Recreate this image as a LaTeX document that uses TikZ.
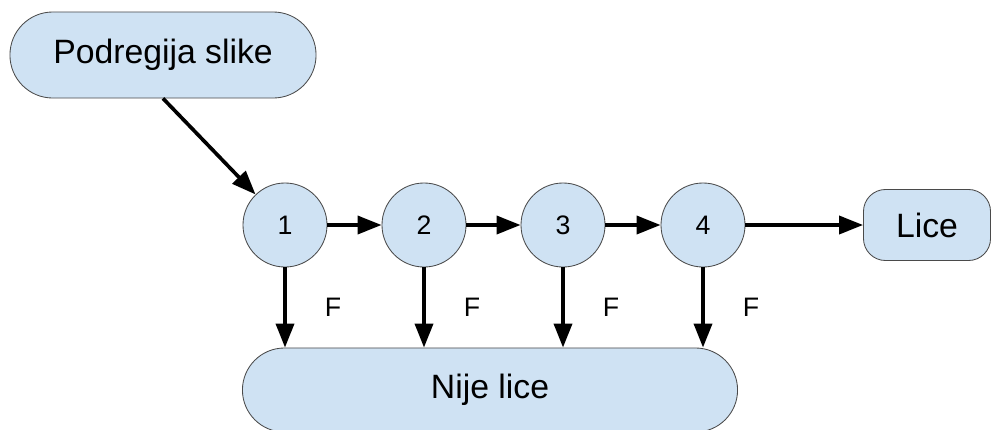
\documentclass[tikz,border=0pt]{standalone}
\usepackage{fontspec}
\setmainfont{Liberation Sans}
\usepackage{tikz}
\usetikzlibrary{arrows.meta,shapes}

\definecolor{boxblue}{HTML}{CFE2F3}
\definecolor{boxline}{HTML}{4A4A4A}

\begin{document}
\begin{tikzpicture}[x=0.025cm,y=-0.025cm,
			>={Triangle[length=0.6cm,width=0.45cm]},
			big node/.style={rectangle,draw=boxline,line width=0.6pt,fill=boxblue,font=\fontsize{24}{28}\selectfont,inner sep=0pt},
			step node/.style={circle,draw=boxline,line width=0.6pt,fill=boxblue,minimum size=2.1cm,inner sep=0pt,font=\fontsize{19}{22}\selectfont},
			flabel/.style={font=\fontsize{19}{22}\selectfont,inner sep=0pt},
			link/.style={->,line width=2.6pt}
			]

			\useasboundingbox (0,0) rectangle (998,429);

			\def \cy {225};

			\node[big node,minimum width=7.65cm,minimum height=2.15cm,rounded corners=1.07cm] at (163,55) (pod) {Podregija slike};

			\node[step node] at (285,\cy) (c1) {1};
			\node[step node] at (424,\cy) (c2) {2};
			\node[step node] at (563,\cy) (c3) {3};
			\node[step node] at (703,\cy) (c4) {4};

			\node[big node,minimum width=3.175cm,minimum height=1.775cm,rounded corners=0.55cm] at (927,\cy) (lice) {Lice};
			\node[big node,minimum width=12.375cm,minimum height=2.1cm,rounded corners=1.05cm] at (490,390) (nije) {Nije lice};

			\draw[link] (pod.south) -- (c1);
			\draw[link] (c1) -- (c2);
			\draw[link] (c2) -- (c3);
			\draw[link] (c3) -- (c4);
			\draw[link] (c4) -- (lice);

			\draw[link] (c1) -- (c1 |- nije.north) node[flabel,midway,xshift=1.2cm] (f1) {F};
			\draw[link] (c2) -- (c2 |- nije.north) node[flabel,midway,xshift=1.2cm] (f2) {F};
			\draw[link] (c3) -- (c3 |- nije.north) node[flabel,midway,xshift=1.2cm] (f3) {F};
			\draw[link] (c4) -- (c4 |- nije.north) node[flabel,midway,xshift=1.2cm] (f4) {F};
		\end{tikzpicture}
\end{document}
